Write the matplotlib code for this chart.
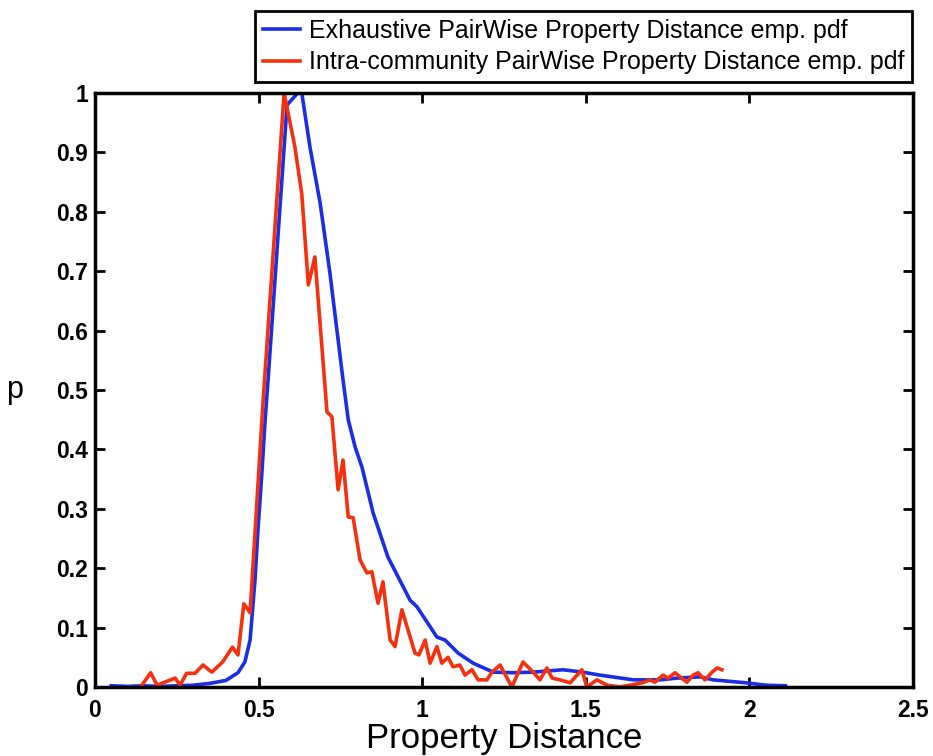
import matplotlib
matplotlib.use('Agg')
import matplotlib.pyplot as plt
from matplotlib.ticker import FormatStrFormatter

# exhaustive pairwise distance pdf (blue)
exh_x = [0.05, 0.10, 0.15, 0.20, 0.25, 0.30, 0.35, 0.40, 0.437, 0.458, 0.474, 0.489,
         0.498, 0.51, 0.52, 0.529, 0.587, 0.62, 0.632, 0.657, 0.688, 0.718, 0.758,
         0.774, 0.795, 0.816, 0.85, 0.895, 0.963, 0.984, 1.045, 1.07, 1.11, 1.156,
         1.217, 1.278, 1.339, 1.43, 1.49, 1.543, 1.645, 1.727, 1.78, 1.85, 1.889,
         1.99, 2.05, 2.11]
exh_p = [0.002, 0.001, 0.002, 0.001, 0.002, 0.003, 0.006, 0.011, 0.024, 0.042, 0.079, 0.18,
         0.264, 0.36, 0.45, 0.517, 0.98, 1.0, 1.0, 0.909, 0.815, 0.697, 0.517,
         0.45, 0.404, 0.37, 0.293, 0.219, 0.146, 0.135, 0.084, 0.079, 0.057, 0.04,
         0.025, 0.024, 0.025, 0.029, 0.025, 0.02, 0.012, 0.012, 0.015, 0.017, 0.012,
         0.007, 0.003, 0.002]

# intra-community pairwise distance pdf (red)
intra_x = [0.14, 0.17, 0.19, 0.245, 0.26, 0.28, 0.306, 0.33, 0.357, 0.39, 0.42, 0.437,
           0.455, 0.474, 0.514, 0.578, 0.611, 0.632, 0.652, 0.672, 0.709, 0.724,
           0.743, 0.758, 0.774, 0.789, 0.81, 0.831, 0.846, 0.865, 0.88, 0.902, 0.917,
           0.938, 0.978, 0.99, 1.009, 1.024, 1.045, 1.06, 1.079, 1.094, 1.115, 1.131,
           1.152, 1.171, 1.198, 1.213, 1.238, 1.274, 1.308, 1.339, 1.36, 1.381, 1.397,
           1.421, 1.452, 1.488, 1.503, 1.534, 1.565, 1.604, 1.635, 1.672, 1.696, 1.711,
           1.736, 1.751, 1.773, 1.788, 1.809, 1.828, 1.843, 1.864, 1.886, 1.901, 1.916]
intra_p = [0.0, 0.024, 0.003, 0.015, 0.003, 0.023, 0.023, 0.037, 0.025, 0.042, 0.067, 0.054,
           0.14, 0.125, 0.483, 1.0, 0.909, 0.83, 0.677, 0.724, 0.463, 0.455,
           0.332, 0.382, 0.286, 0.285, 0.214, 0.192, 0.194, 0.141, 0.177, 0.079, 0.068,
           0.13, 0.057, 0.054, 0.079, 0.04, 0.068, 0.04, 0.05, 0.034, 0.037, 0.02,
           0.029, 0.012, 0.012, 0.025, 0.037, 0.0, 0.042, 0.025, 0.012, 0.032, 0.015,
           0.012, 0.007, 0.029, 0.0, 0.012, 0.003, 0.0, 0.003, 0.007, 0.012, 0.008,
           0.02, 0.015, 0.024, 0.017, 0.008, 0.02, 0.024, 0.012, 0.025, 0.032, 0.029]

x_ticks = [0, 0.5, 1, 1.5, 2, 2.5]
y_ticks = [0, 0.1, 0.2, 0.3, 0.4, 0.5, 0.6, 0.7, 0.8, 0.9, 1]

plt.rcParams['font.family'] = ['Liberation Sans', 'DejaVu Sans']

fig = plt.figure(figsize=(9.33, 7.56), dpi=100)
ax = fig.add_axes([0.1018, 0.0913, 0.8768, 0.7857])

ax.plot(exh_x, exh_p, color='#1b2ee6', lw=2.6,
        label='Exhaustive PairWise Property Distance emp. pdf')
ax.plot(intra_x, intra_p, color='#f5300f', lw=2.6,
        label='Intra-community PairWise Property Distance emp. pdf')

ax.set_xlim(0, 2.5)
ax.set_ylim(0, 1)
ax.set_xticks(x_ticks)
ax.set_yticks(y_ticks)
ax.xaxis.set_major_formatter(FormatStrFormatter('%g'))
ax.yaxis.set_major_formatter(FormatStrFormatter('%g'))
ax.tick_params(direction='in', top=True, right=True, length=7, width=2,
               labelsize=16.5)
ax.tick_params(axis='y', pad=5)
ax.tick_params(axis='x', pad=9)
for lbl in ax.get_xticklabels() + ax.get_yticklabels():
    lbl.set_fontweight('bold')
for sp in ax.spines.values():
    sp.set_linewidth(2.5)

ax.set_xlabel('Property Distance', fontsize=25, labelpad=0)
ax.set_ylabel('p', fontsize=22, rotation=0, labelpad=30, va='center')

leg = fig.legend(loc='upper right', bbox_to_anchor=(0.978, 0.985), fontsize=18,
                 handlelength=1.5, handletextpad=0.36, borderpad=0.3,
                 labelspacing=0.3, fancybox=False, framealpha=1, borderaxespad=0)
leg.get_frame().set_edgecolor('black')
leg.get_frame().set_linewidth(2)

fig.savefig('out.png', dpi=100)
